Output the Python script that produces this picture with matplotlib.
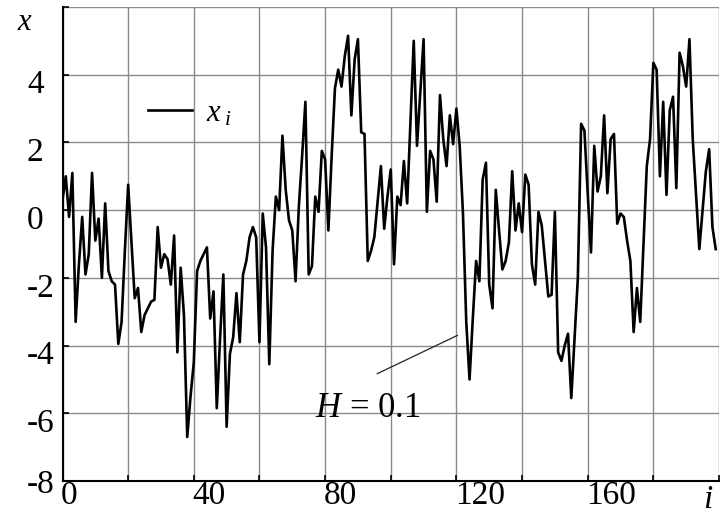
import matplotlib
matplotlib.use('Agg')
import matplotlib.pyplot as plt
from matplotlib.transforms import ScaledTranslation

# ---- data ----
values = [
    0.3, 1.0, -0.2, 1.1, -3.3, -1.6, -0.2, -1.9, -1.3, 1.1,
    -0.9, -0.25, -2.0, 0.2, -1.8, -2.1, -2.2, -3.95, -3.3, -1.2,
    0.75, -0.9, -2.6, -2.3, -3.6, -3.1, -2.9, -2.7, -2.65, -0.5,
    -1.7, -1.3, -1.45, -2.2, -0.75, -4.2, -1.7, -3.1, -6.7, -5.5,
    -4.5, -1.8, -1.5, -1.3, -1.1, -3.2, -2.4, -5.85, -3.8, -1.9,
    -6.4, -4.25, -3.75, -2.45, -3.9, -1.9, -1.5, -0.8, -0.5, -0.8,
    -3.9, -0.1, -1.1, -4.55, -1.2, 0.4, 0.0, 2.2, 0.6, -0.3,
    -0.6, -2.1, 0.1, 1.6, 3.2, -1.9, -1.65, 0.4, -0.05, 1.75,
    1.5, -0.6, 1.6, 3.6, 4.15, 3.65, 4.55, 5.15, 2.8, 4.45,
    5.05, 2.3, 2.25, -1.5, -1.2, -0.8, 0.25, 1.3, -0.55, 0.4,
    1.2, -1.6, 0.4, 0.15, 1.45, 0.2, 2.6, 5.0, 1.9, 3.5,
    5.05, -0.05, 1.75, 1.5, 0.25, 3.4, 2.1, 1.3, 2.8, 1.95,
    3.0, 1.9, -0.1, -3.3, -5.0, -3.2, -1.5, -2.1, 0.9, 1.4,
    -2.2, -2.9, 0.6, -0.6, -1.75, -1.5, -0.95, 1.15, -0.6, 0.2,
    -0.65, 1.05, 0.75, -1.6, -2.2, -0.05, -0.45, -1.5, -2.55, -2.5,
    -0.05, -4.2, -4.45, -4.0, -3.65, -5.55, -3.8, -2.0, 2.55, 2.35,
    0.5, -1.25, 1.9, 0.55, 1.0, 2.8, 0.5, 2.1, 2.25, -0.4,
    -0.1, -0.2, -0.9, -1.5, -3.6, -2.3, -3.3, -1.0, 1.3, 2.1,
    4.35, 4.15, 1.0, 3.2, 0.45, 2.95, 3.35, 0.65, 4.65, 4.25,
    3.65, 5.05, 2.1, 0.5, -1.15, 0.0, 1.15, 1.8, -0.5, -1.15,
]
idx = list(range(len(values)))

x_ticks = [0, 20, 40, 60, 80, 100, 120, 140, 160, 180, 200]
x_tick_labels = ['0', '', '40', '', '80', '', '120', '', '160', '', '']
y_ticks = [-8, -6, -4, -2, 0, 2, 4, 6]
y_tick_labels = ['-8', '-6', '-4', '-2', '0', '2', '4', '']
legend_label = r'$x_{\;i}$'
annot_text = r'$H$ = 0.1'
annot_line_x = [95.9, 120.3]
annot_line_y = [-4.83, -3.7]
annot_text_pos = (77.0, -5.85)

plt.rcParams['font.family'] = ['Liberation Serif', 'DejaVu Serif']
plt.rcParams['mathtext.fontset'] = 'custom'
plt.rcParams['mathtext.it'] = 'Liberation Serif:italic'
plt.rcParams['mathtext.rm'] = 'Liberation Serif'

W, H = 720, 522
fig = plt.figure(figsize=(W / 100, H / 100), dpi=100)
L, R, T, B = 62.5, 719.0, 7.0, 481.0
ax = fig.add_axes([L / W, 1 - B / H, (R - L) / W, (B - T) / H])

ax.plot(idx, values, color='black', lw=1.9, label=legend_label, zorder=3)
ax.plot(annot_line_x, annot_line_y, color='#222222', lw=0.9, zorder=3)
ax.text(annot_text_pos[0], annot_text_pos[1], annot_text, fontsize=25,
        ha='left', va='center', zorder=4)

ax.set_xlim(0, 200)
ax.set_ylim(-8, 6)
ax.set_xticks(x_ticks)
ax.set_xticklabels(x_tick_labels)
ax.set_yticks(y_ticks)
ax.set_yticklabels(y_tick_labels)
ax.grid(True, color='#8a8a8a', lw=1.0)
ax.set_axisbelow(True)

for s in ['top', 'right']:
    ax.spines[s].set_visible(False)
for s in ['left', 'bottom']:
    ax.spines[s].set_color('black')
    ax.spines[s].set_linewidth(1.5)

ax.tick_params(axis='both', direction='in', length=4, width=1.2, colors='black',
               labelsize=24)
ax.tick_params(axis='y', pad=25.6)
ax.tick_params(axis='x', pad=0)
for lab in ax.get_yticklabels():
    lab.set_horizontalalignment('left')
    if lab.get_text() != '-8':
        lab.set_transform(lab.get_transform() +
                          ScaledTranslation(0, -7 / 100, fig.dpi_scale_trans))
for lab in ax.get_xticklabels():
    lab.set_horizontalalignment('left')
    lab.set_transform(lab.get_transform() +
                      ScaledTranslation(-1.5 / 100, 0, fig.dpi_scale_trans))

leg = ax.legend(loc='upper left', bbox_to_anchor=(148 / W, 1 - 99 / H),
                bbox_transform=fig.transFigure, frameon=False, fontsize=22,
                handlelength=1.45, handletextpad=0.45, borderpad=0,
                borderaxespad=0)

fig.text(24 / W, 1 - 22 / H, 'x', fontsize=22, style='italic',
         ha='center', va='center')
fig.text(708 / W, 1 - 500 / H, 'i', fontsize=24, style='italic',
         ha='center', va='center')

fig.savefig('out.png', dpi=100)
